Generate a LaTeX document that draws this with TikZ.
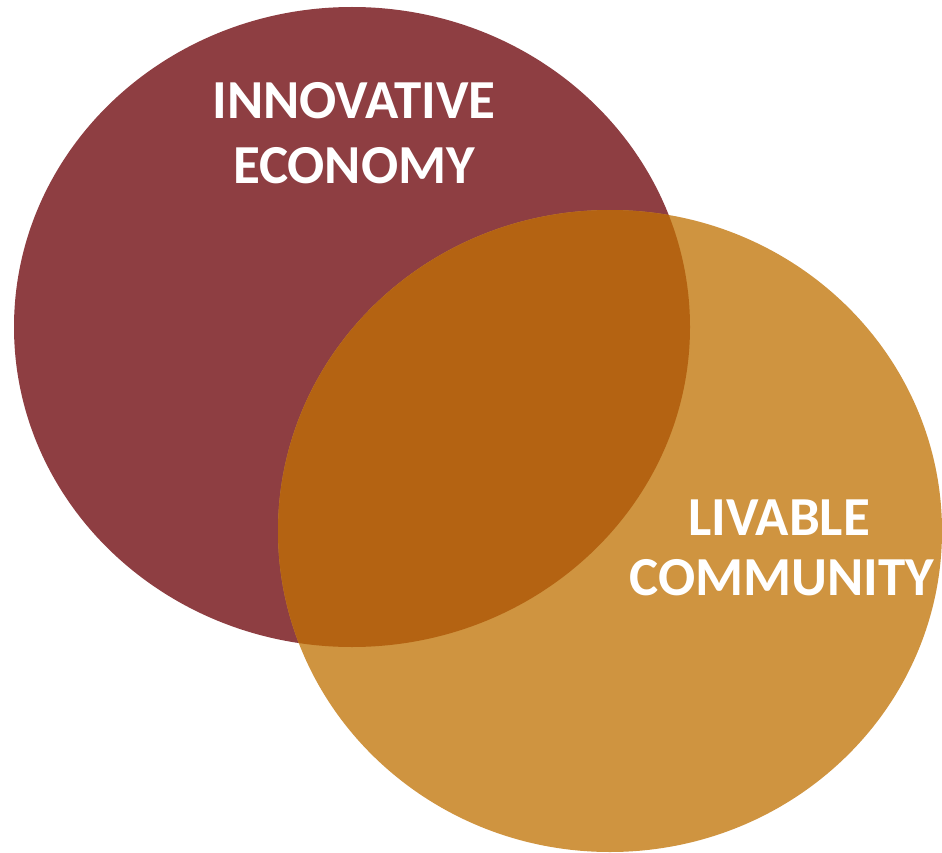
\documentclass[tikz,border=0pt]{standalone}
\usepackage{fontspec}
\setmainfont{Carlito}
\definecolor{redc}{RGB}{142,62,66}
\definecolor{orangec}{RGB}{207,148,64}
\definecolor{overlapc}{RGB}{180,99,18}
\tikzset{
  lbl/.style={text=white, font=\bfseries\fontsize{55}{60}\selectfont, anchor=base, inner sep=0pt},
}
\begin{document}
\begin{tikzpicture}[x=1pt,y=-1pt]
\useasboundingbox (0,0) rectangle (942,853);
\fill[redc] (352,327) ellipse [x radius=338, y radius=320];
\fill[orangec] (610,531) ellipse [x radius=332, y radius=321];
\begin{scope}
  \clip (352,327) ellipse [x radius=338, y radius=320];
  \fill[overlapc] (610,531) ellipse [x radius=332, y radius=321];
\end{scope}
\node[lbl] (l1) at (354,119) {INNOVATIVE};
\node[lbl] (l2) at (354,184) {ECONOMY};
\node[lbl] (l3) at (779,535) {LIVABLE};
\node[lbl] (l4) at (782,595) {COMMUNITY};
\end{tikzpicture}
\end{document}
